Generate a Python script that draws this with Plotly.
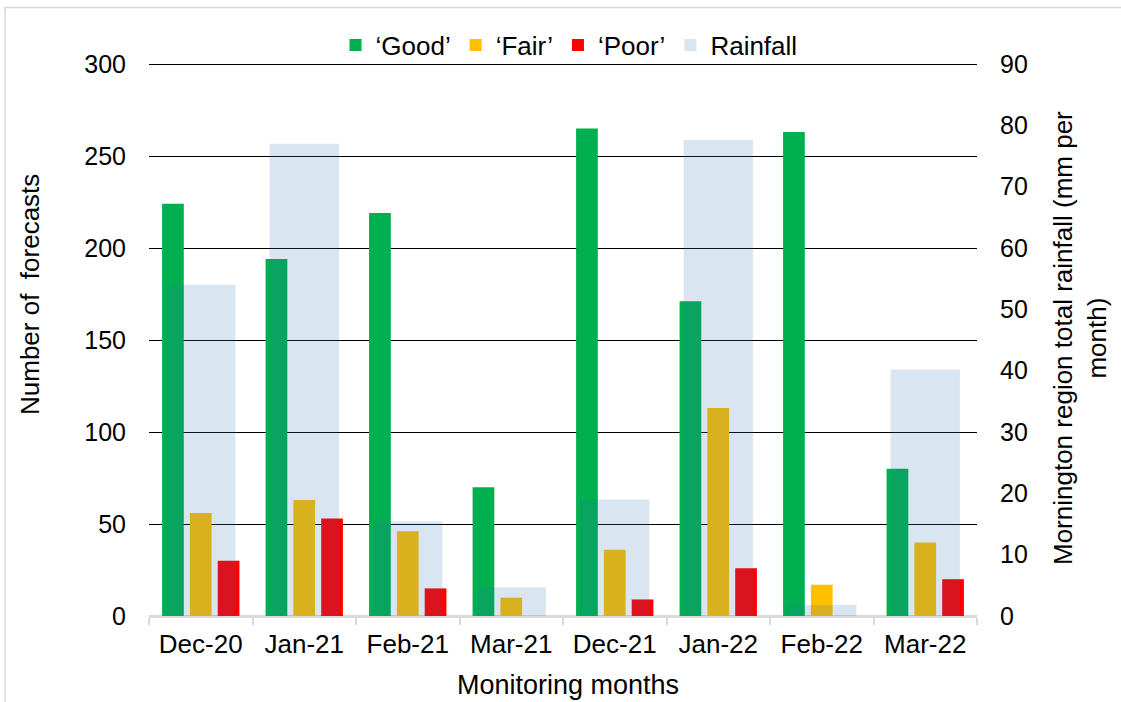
import plotly.graph_objects as go

# Monitoring months and forecast counts by category
months = ["Dec-20", "Jan-21", "Feb-21", "Mar-21", "Dec-21", "Jan-22", "Feb-22", "Mar-22"]
good = [224, 194, 219, 70, 265, 171, 263, 80]
fair = [56, 63, 46, 10, 36, 113, 17, 40]
poor = [30, 53, 15, 0, 9, 26, 0, 20]
# Mornington region total rainfall (mm per month)
rainfall = [54, 77, 15.4, 4.7, 19, 77.6, 1.8, 40.2]

FONT = "Liberation Sans, Arial, sans-serif"
GREY = "#d9d9d9"
RAIN = "rgba(45,110,170,0.18)"

# plot area in pixels (a little headroom above the top gridline)
L, R, T, B = 149, 977, 60, 616
W, H = R - L, B - T
Y_TOP = 300 * H / 552  # puts the 300 gridline 552 px above the baseline


def px_x(x):
    return (x - L) / W


def px_y(y):
    return (B - y) / H


fig = go.Figure()
fig.add_trace(go.Bar(name="\u2018Good\u2019", x=months, y=good,
                     marker=dict(color="#00B050", line=dict(width=0))))
fig.add_trace(go.Bar(name="\u2018Fair\u2019", x=months, y=fair,
                     marker=dict(color="#FFC000", line=dict(width=0))))
fig.add_trace(go.Bar(name="\u2018Poor\u2019", x=months, y=poor,
                     marker=dict(color="#FF0000", line=dict(width=0))))
# Rainfall drawn on the secondary axis, wide and translucent over the count bars
fig.add_trace(go.Bar(name="Rainfall", x=months, y=rainfall, yaxis="y2",
                     width=0.67, offset=-0.335,
                     marker=dict(color=RAIN, line=dict(width=0))))

fig.update_layout(
    width=1121, height=702,
    margin=dict(l=L, r=1121 - R, t=T, b=702 - B),
    paper_bgcolor="white", plot_bgcolor="white",
    font=dict(family=FONT, size=26, color="black"),
    barmode="group", bargap=0.194, bargroupgap=0.219,
    showlegend=True,
    legend=dict(orientation="h", xanchor="center", yanchor="middle",
                x=px_x(569), y=px_y(45), font=dict(size=26),
                bgcolor="rgba(0,0,0,0)", itemwidth=30, tracegroupgap=0),
    xaxis=dict(
        type="category", showgrid=False, showline=True, linecolor=GREY,
        linewidth=1.5, ticks="outside", tickson="boundaries", ticklen=7,
        tickcolor=GREY, tickwidth=1.5, tickfont=dict(size=26),
        ticklabelstandoff=4,
    ),
    yaxis=dict(
        range=[0, Y_TOP], tickvals=[0, 50, 100, 150, 200, 250, 300],
        showgrid=True, gridcolor="black",
        gridwidth=1.3, zeroline=True, zerolinecolor=GREY, zerolinewidth=1.5,
        showline=False, ticks="", ticklabelstandoff=22,
        tickfont=dict(size=25),
    ),
    yaxis2=dict(
        overlaying="y", side="right", range=[0, Y_TOP * 90 / 300],
        tickvals=[0, 10, 20, 30, 40, 50, 60, 70, 80, 90],
        showgrid=False, zeroline=False, showline=False, ticks="",
        ticklabelstandoff=22, tickfont=dict(size=25),
    ),
    annotations=[
        dict(text="Monitoring months", xref="paper", yref="paper",
             x=px_x(568), y=px_y(685), xanchor="center", yanchor="middle",
             showarrow=False, font=dict(size=27)),
        dict(text="Number of  forecasts", xref="paper", yref="paper",
             x=px_x(30), y=px_y(295), xanchor="center", yanchor="middle",
             textangle=-90, showarrow=False, font=dict(size=26)),
        dict(text="Mornington region total rainfall (mm per<br>month)",
             xref="paper", yref="paper",
             x=px_x(1080), y=px_y(338), xanchor="center", yanchor="middle",
             textangle=-90, showarrow=False, font=dict(size=26)),
    ],
    shapes=[dict(type="rect", xref="paper", yref="paper",
                 x0=px_x(5), x1=px_x(1135), y0=px_y(715), y1=px_y(7.5),
                 line=dict(color=GREY, width=1.5), fillcolor="rgba(0,0,0,0)",
                 layer="below")],
)

fig.write_html("out.html")
